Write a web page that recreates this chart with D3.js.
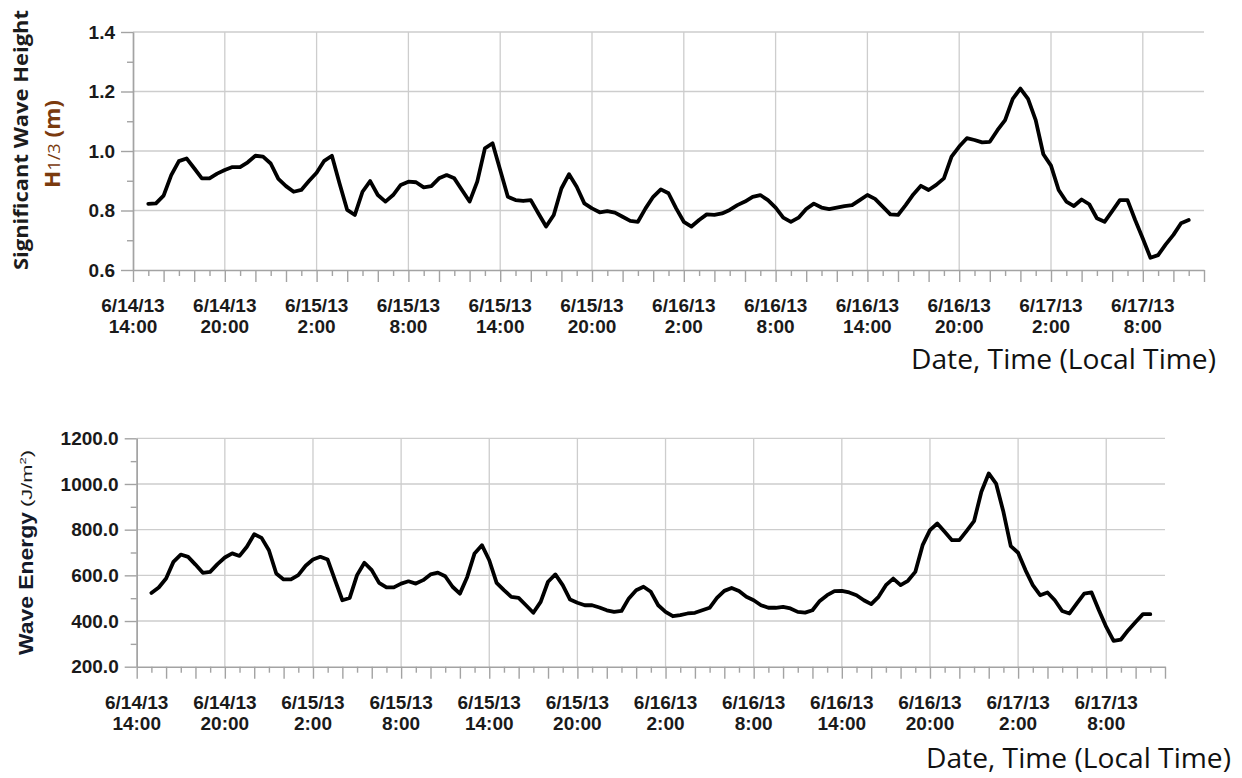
<!DOCTYPE html>
<html>
<head>
<meta charset="utf-8">
<script src="https://cdn.jsdelivr.net/npm/d3@7"></script>
<style>
  html, body { margin: 0; padding: 0; background: #fff; }
  svg { display: block; }
</style>
</head>
<body>
<svg id="chart" width="1242" height="778"></svg>
<script>
// Half-hourly observations, first reading 6/14/13 15:00 local time
const firstReading = Date.UTC(2013, 5, 14, 15, 0);
const readingStepMinutes = 30;
const axisStart = Date.UTC(2013, 5, 14, 14, 0);
const axisEnd = Date.UTC(2013, 5, 17, 12, 0);

// Significant wave height H1/3 (m)
const waveHeight = [
  0.822, 0.824, 0.850, 0.919, 0.966, 0.975, 0.942, 0.908, 0.908, 0.924,
  0.936, 0.946, 0.946, 0.962, 0.984, 0.981, 0.958, 0.906, 0.882, 0.863,
  0.869, 0.899, 0.927, 0.967, 0.984, 0.891, 0.802, 0.785, 0.863, 0.899,
  0.852, 0.830, 0.852, 0.886, 0.897, 0.895, 0.878, 0.882, 0.908, 0.919,
  0.908, 0.869, 0.830, 0.897, 1.009, 1.026, 0.936, 0.846, 0.835, 0.832,
  0.835, 0.790, 0.746, 0.785, 0.874, 0.922, 0.880, 0.824, 0.807, 0.794,
  0.798, 0.793, 0.779, 0.765, 0.762, 0.807, 0.846, 0.871, 0.858, 0.807,
  0.762, 0.746, 0.768, 0.787, 0.785, 0.790, 0.802, 0.818, 0.830, 0.846,
  0.852, 0.835, 0.810, 0.776, 0.762, 0.776, 0.805, 0.823, 0.810, 0.805,
  0.810, 0.815, 0.818, 0.835, 0.852, 0.839, 0.813, 0.787, 0.785, 0.818,
  0.854, 0.883, 0.869, 0.886, 0.908, 0.981, 1.015, 1.043, 1.037, 1.029,
  1.031, 1.070, 1.104, 1.175, 1.210, 1.175, 1.104, 0.989, 0.951, 0.869,
  0.830, 0.815, 0.837, 0.821, 0.774, 0.762, 0.798, 0.835, 0.835, 0.768,
  0.706, 0.641, 0.650, 0.686, 0.718, 0.757, 0.768
];

// Wave energy (J/m²)
const waveEnergy = [
  523, 547, 586, 659, 691, 681, 647, 611, 615, 649,
  678, 696, 685, 725, 780, 764, 710, 608, 582, 582,
  601, 642, 669, 681, 669, 579, 491, 501, 601, 655,
  623, 567, 547, 547, 564, 574, 564, 579, 604, 612,
  596, 550, 520, 593, 696, 732, 666, 567, 535, 506,
  501, 469, 436, 484, 572, 604, 557, 494, 480, 469,
  469, 459, 447, 440, 444, 499, 535, 550, 528, 469,
  440, 421, 426, 433, 436, 447, 458, 501, 532, 545,
  531, 506, 491, 469, 458, 458, 462, 455, 440, 437,
  447, 488, 513, 531, 532, 525, 513, 491, 474, 506,
  557, 586, 557, 576, 615, 732, 798, 827, 791, 754,
  754, 795, 837, 966, 1046, 1002, 878, 728, 699, 623,
  557, 513, 525, 491, 444, 433, 477, 520, 525, 447,
  374, 313, 319, 360, 396, 430, 430
];

const heightMajorTicks = [0.6, 0.8, 1.0, 1.2, 1.4];
const heightMinorTicks = [0.7, 0.9, 1.1, 1.3];
const energyMajorTicks = [200, 400, 600, 800, 1000, 1200];
const energyMinorTicks = [300, 500, 700, 900, 1100];
const dateLabelFormat = "%-m/%-d/%y";
const timeLabelFormat = "%-H:%M";
const xTitleText = "Date, Time (Local Time)";

const GRID = "#cdcdcd";
const AXIS = "#a3a3a3";
const INK = "#1a1a1a";
const TICK_FONT = "'Liberation Sans', Arial, sans-serif";

const svg = d3.select("#chart");
svg.append("rect").attr("width", 1242).attr("height", 778).attr("fill", "#fff");

function readingTime(i) {
  return new Date(firstReading + i * readingStepMinutes * 60000);
}

function drawPanel(p) {
  const x = d3.scaleUtc()
    .domain([new Date(axisStart), new Date(axisEnd)])
    .range([p.left, p.right]);
  const y = d3.scaleLinear().domain(p.yDomain).range([p.bottom, p.top]);
  const g = svg.append("g");

  const hourly = d3.utcHour.range(new Date(axisStart), new Date(axisEnd + 1));
  const sixHourly = d3.utcHour.range(new Date(axisStart), new Date(axisEnd), 6);

  // grid
  g.append("g").selectAll("line")
    .data(p.majorTicks.filter(d => d !== p.yDomain[0]))
    .join("line")
    .attr("x1", p.left).attr("x2", p.right)
    .attr("y1", d => y(d)).attr("y2", d => y(d))
    .attr("stroke", GRID).attr("stroke-width", 1.3);
  g.append("g").selectAll("line")
    .data(sixHourly.slice(1))
    .join("line")
    .attr("x1", d => x(d)).attr("x2", d => x(d))
    .attr("y1", p.top).attr("y2", p.bottom)
    .attr("stroke", GRID).attr("stroke-width", 1.3);

  // x axis: hourly ticks, even hours longer
  const xAxis = g.append("g")
    .attr("transform", `translate(0,${p.bottom})`)
    .call(d3.axisBottom(x).tickValues(hourly).tickSize(6).tickSizeOuter(0).tickFormat(""));
  xAxis.selectAll(".tick line")
    .attr("y2", d => (d.getUTCHours() % 2 === 0 ? 12 : 6));
  xAxis.selectAll("line, path").attr("stroke", AXIS).attr("stroke-width", 1.4);

  // x labels, two lines each
  const fmtDate = d3.utcFormat(dateLabelFormat);
  const fmtTime = d3.utcFormat(timeLabelFormat);
  const lbl = g.append("g")
    .attr("font-family", TICK_FONT).attr("font-weight", "bold")
    .attr("font-size", 19).attr("fill", INK).attr("text-anchor", "middle");
  lbl.selectAll("text.d").data(sixHourly).join("text")
    .attr("class", "d")
    .attr("x", d => x(d)).attr("y", p.bottom + 42).text(d => fmtDate(d));
  lbl.selectAll("text.t").data(sixHourly).join("text")
    .attr("class", "t")
    .attr("x", d => x(d)).attr("y", p.bottom + 63).text(d => fmtTime(d));

  // y axis
  const yMinor = g.append("g")
    .attr("transform", `translate(${p.left},0)`)
    .call(d3.axisLeft(y).tickValues(p.minorTicks).tickSize(6).tickSizeOuter(0).tickFormat(""));
  yMinor.selectAll("line, path").attr("stroke", AXIS).attr("stroke-width", 1.4);
  const yMajor = g.append("g")
    .attr("transform", `translate(${p.left},0)`)
    .call(d3.axisLeft(y).tickValues(p.majorTicks).tickSize(12).tickPadding(6)
      .tickSizeOuter(0).tickFormat(d3.format(".1f")));
  yMajor.selectAll("line, path").attr("stroke", AXIS).attr("stroke-width", 1.4);
  yMajor.attr("font-family", TICK_FONT).attr("font-size", 19).attr("font-weight", "bold");
  yMajor.selectAll("text").attr("fill", INK);

  // series
  const line = d3.line()
    .x((d, i) => x(readingTime(i)))
    .y(d => y(d));
  g.append("path")
    .datum(p.values)
    .attr("d", line)
    .attr("fill", "none")
    .attr("stroke", "#000")
    .attr("stroke-width", 3.8)
    .attr("stroke-linejoin", "round")
    .attr("stroke-linecap", "round");

  // x title
  g.append("text")
    .attr("x", p.xTitleRight).attr("y", p.xTitleY)
    .attr("text-anchor", "end")
    .attr("font-family", "'Open Sans', 'Noto Sans', sans-serif")
    .attr("font-size", 27).attr("fill", "#111")
    .attr("textLength", 305).attr("lengthAdjust", "spacingAndGlyphs")
    .text(xTitleText);
}

drawPanel({
  left: 133, right: 1204, top: 32, bottom: 270,
  yDomain: [0.6, 1.4],
  majorTicks: heightMajorTicks, minorTicks: heightMinorTicks,
  values: waveHeight,
  xTitleRight: 1216, xTitleY: 369
});

drawPanel({
  left: 136.7, right: 1165, top: 438.3, bottom: 666.7,
  yDomain: [200, 1200],
  majorTicks: energyMajorTicks, minorTicks: energyMinorTicks,
  values: waveEnergy,
  xTitleRight: 1231, xTitleY: 768
});

// y titles
svg.append("text")
  .attr("transform", "translate(28,140) rotate(-90)")
  .attr("text-anchor", "middle")
  .attr("font-family", "'Open Sans', 'Noto Sans', sans-serif")
  .attr("font-weight", "bold").attr("font-size", 20).attr("fill", "#1c1c1c")
  .attr("textLength", 260).attr("lengthAdjust", "spacingAndGlyphs")
  .text("Significant Wave Height");

const hTitle = svg.append("text")
  .attr("transform", "translate(60,144) rotate(-90)")
  .attr("text-anchor", "middle")
  .attr("font-family", "'Open Sans', 'Noto Sans', sans-serif")
  .attr("font-weight", "bold").attr("font-size", 21).attr("fill", "#7a3a0e")
  .attr("textLength", 88).attr("lengthAdjust", "spacingAndGlyphs");
hTitle.append("tspan").text("H");
hTitle.append("tspan").attr("font-size", 17).attr("font-weight", "normal").text("1/3");
hTitle.append("tspan").text(" (m)");

svg.append("text")
  .attr("transform", "translate(33,655) rotate(-90)")
  .attr("text-anchor", "start")
  .attr("font-family", "'Liberation Sans', Arial, sans-serif")
  .attr("font-weight", "bold").attr("font-size", 20).attr("fill", "#141a2a")
  .attr("textLength", 143).attr("lengthAdjust", "spacingAndGlyphs")
  .text("Wave Energy");

const eUnit = svg.append("text")
  .attr("transform", "translate(32,507) rotate(-90)")
  .attr("text-anchor", "start")
  .attr("font-family", "'Liberation Sans', Arial, sans-serif")
  .attr("font-size", 15).attr("fill", "#1a1a1a")
  .attr("textLength", 57).attr("lengthAdjust", "spacingAndGlyphs");
eUnit.append("tspan").text("(J/m");
eUnit.append("tspan").attr("font-size", 9).attr("dy", -6).text("2");
eUnit.append("tspan").attr("dy", 6).text(")");
</script>
</body>
</html>
